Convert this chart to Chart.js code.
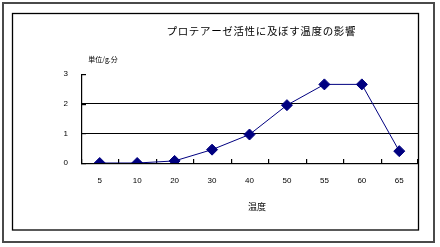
<!DOCTYPE html>
<html lang="ja">
<head>
<meta charset="utf-8">
<script src="https://cdn.jsdelivr.net/npm/chart.js@4/dist/chart.umd.min.js"></script>
<style>
    html, body { margin: 0; padding: 0; background: #fff; }
    #wrap { width: 440px; height: 247px; }
</style>
</head>
<body>
<div id="wrap"><canvas id="tempChart" width="440" height="247"></canvas></div>
<script>
const temps = ['5', '10', '20', '30', '40', '50', '55', '60', '65'];
const activity = [0, 0, 0.07, 0.45, 0.96, 1.95, 2.65, 2.65, 0.4];
const yTicks = [0, 1, 2, 3];
const chartTitle = 'プロテアーゼ活性に及ぼす温度の影響';
const yUnit = '単位/g.分';
const xTitle = '温度';

const jpFont = '"Noto Sans CJK JP", "Noto Sans", sans-serif';

// frames, axis lines, inside tick marks and the free-floating texts
const decor = {
    id: 'decor',
    beforeDraw(chart) {
        const ctx = chart.ctx;
        ctx.save();
        ctx.fillStyle = '#fff';
        ctx.fillRect(0, 0, chart.width, chart.height);
        ctx.strokeStyle = '#4a4a4a';
        ctx.lineWidth = 2;
        ctx.strokeRect(3, 3, 431, 239);
        ctx.strokeStyle = '#000';
        ctx.lineWidth = 1.3;
        ctx.strokeRect(12.5, 13.5, 406, 216.5);
        ctx.restore();
    },
    beforeDatasetsDraw(chart) {
        const ctx = chart.ctx;
        const x = chart.scales.x;
        const y = chart.scales.y;
        const area = chart.chartArea;
        const left = Math.round(area.left);
        const bottom = Math.round(area.bottom);
        const top = Math.round(y.getPixelForValue(yTicks[yTicks.length - 1]));
        ctx.save();
        ctx.fillStyle = '#000';
        ctx.fillRect(left, top, 1.2, bottom - top + 1);
        ctx.fillRect(left, bottom, area.right - left, 1.2);
        for (let i = 0; i <= temps.length; i++) {
            let px;
            if (i === 0) px = area.left;
            else if (i === temps.length) px = area.right - 1;
            else px = (x.getPixelForValue(i - 1) + x.getPixelForValue(i)) / 2;
            ctx.fillRect(Math.round(px), bottom - 4, 1.2, 4);
        }
        yTicks.forEach(v => {
            const py = Math.round(y.getPixelForValue(v));
            ctx.fillRect(left, py, 5, 1.2);
        });

        ctx.textAlign = 'center';
        ctx.textBaseline = 'middle';
        ctx.font = '10.5px ' + jpFont;
        ctx.fillText(chartTitle.split('').join('\u200a'), 261, 31);
        ctx.font = '7px ' + jpFont;
        ctx.fillText(yUnit, 103, 59);
        ctx.font = '9px ' + jpFont;
        ctx.fillText(xTitle, 257, 207);
        ctx.restore();
    }
};

new Chart(document.getElementById('tempChart'), {
    type: 'line',
    data: {
        labels: temps,
        datasets: [{
            data: activity,
            borderColor: '#000080',
            backgroundColor: '#000080',
            borderWidth: 1,
            pointStyle: 'rectRot',
            pointRadius: 5.5,
            pointBorderWidth: 1,
            pointBorderColor: '#000080',
            tension: 0,
        }],
    },
    options: {
        responsive: false,
        animation: false,
        events: [],
        layout: {
            padding: { top: 74, right: 22, bottom: 0, left: 0 },
        },
        plugins: {
            legend: { display: false },
            title: { display: false },
            tooltip: { enabled: false },
        },
        scales: {
            x: {
                offset: true,
                grid: { display: false, drawTicks: false },
                border: { display: false },
                ticks: {
                    color: '#000',
                    padding: 13,
                    maxRotation: 0,
                    font: { family: '"Liberation Sans", Arial, sans-serif', size: 8 },
                },
                afterFit(scale) { scale.height = 84; },
            },
            y: {
                min: 0,
                max: 3,
                afterBuildTicks(scale) { scale.ticks = yTicks.map(v => ({ value: v })); },
                grid: {
                    drawTicks: false,
                    color: ctx => (ctx.tick && (ctx.tick.value === 1 || ctx.tick.value === 2)) ? '#000' : 'rgba(0,0,0,0)',
                    lineWidth: 1,
                },
                border: { display: false },
                ticks: {
                    color: '#000',
                    padding: 13,
                    font: { family: '"Liberation Sans", Arial, sans-serif', size: 8 },
                },
                afterFit(scale) { scale.width = 81; },
            },
        },
    },
    plugins: [decor],
});
</script>
</body>
</html>
